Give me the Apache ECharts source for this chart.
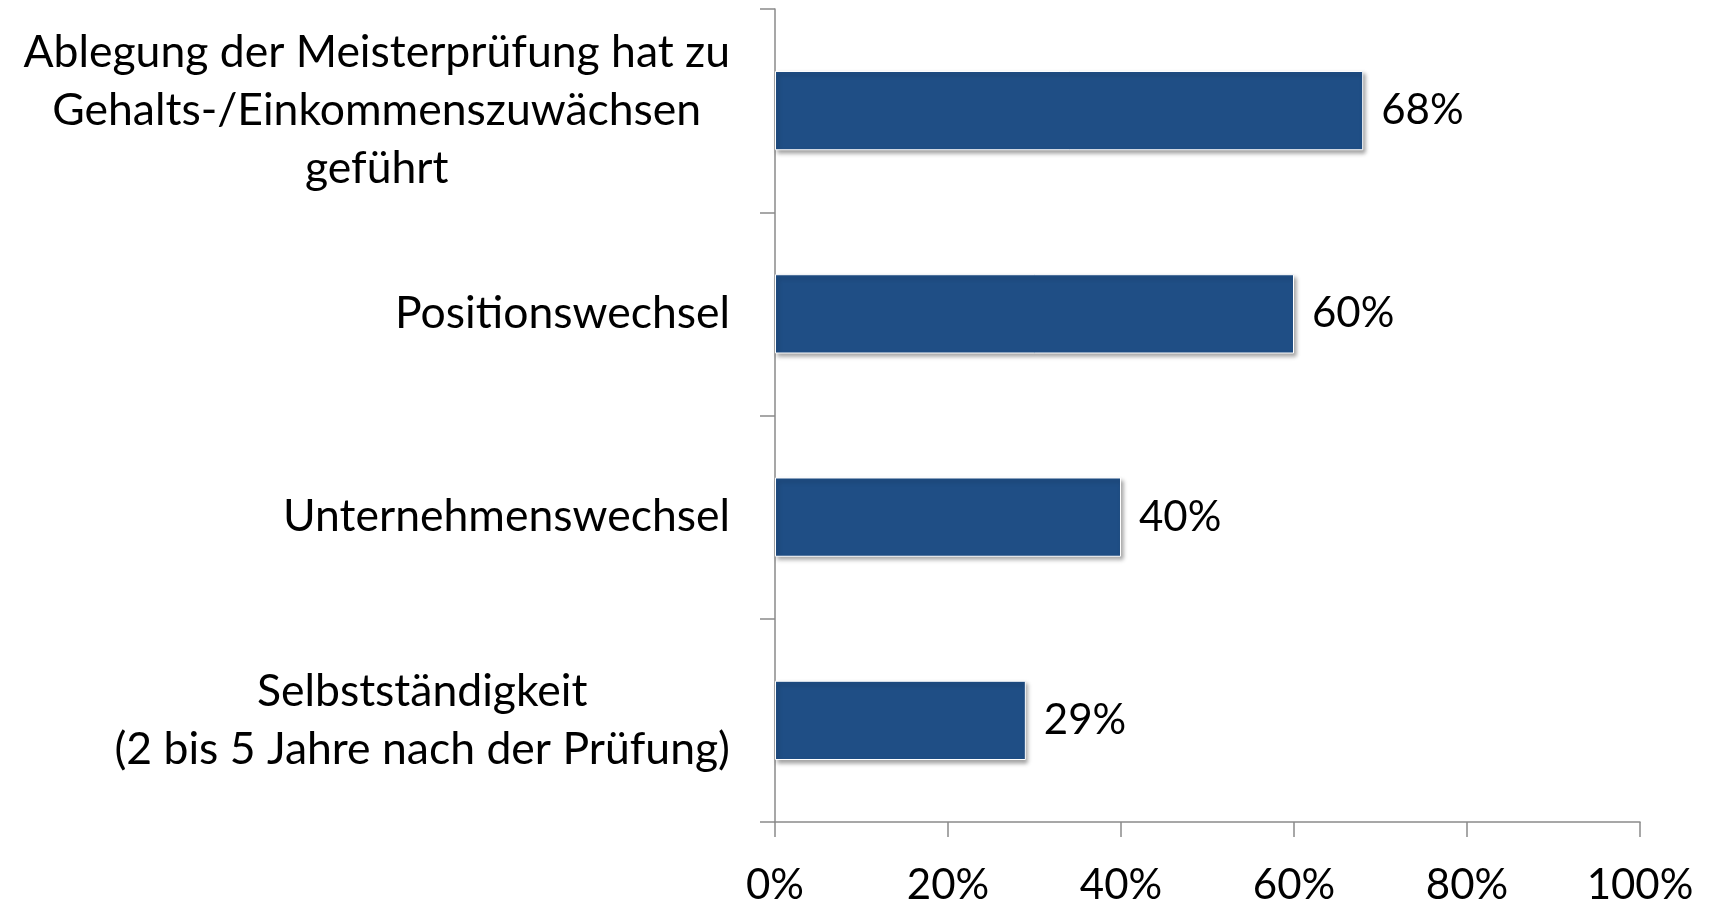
<!DOCTYPE html>
<html>
<head>
<meta charset="utf-8">
<script src="https://cdn.jsdelivr.net/npm/echarts@6/dist/echarts.min.js"></script>
<style>
    html, body { margin: 0; padding: 0; background: #fff; }
    #chart { width: 1714px; height: 906px; }
</style>
</head>
<body>
<div id="chart"></div>
<script>
// Kategorien (von oben nach unten)
const categories = [
    'Ablegung der Meisterprüfung hat zu\nGehalts-/Einkommenszuwächsen\ngeführt',
    'Positionswechsel',
    'Unternehmenswechsel',
    'Selbstständigkeit\n(2 bis 5 Jahre nach der Prüfung)'
];
const values = [68, 60, 40, 29];
const xTicks = [0, 20, 40, 60, 80, 100];

const fontFamily = 'Lato, "Open Sans", sans-serif';
const axisGray = '#8a8a8a';

const myChart = echarts.init(document.getElementById('chart'));
const option = {
    backgroundColor: '#fff',
    animation: false,
    grid: {
        left: 775,
        right: 74,
        top: 9,
        bottom: 83
    },
    xAxis: {
        type: 'value',
        min: xTicks[0],
        max: xTicks[xTicks.length - 1],
        interval: 20,
        splitLine: { show: false },
        axisLine: { show: true, lineStyle: { color: axisGray, width: 1.5 } },
        axisTick: { show: true, length: 15, lineStyle: { color: axisGray, width: 1.5 } },
        axisLabel: {
            margin: 42,
            color: '#000',
            fontSize: 42,
            fontFamily: fontFamily,
            formatter: '{value}%'
        }
    },
    yAxis: {
        type: 'category',
        inverse: true,
        data: categories,
        axisLine: { show: true, lineStyle: { color: axisGray, width: 1.5 } },
        axisTick: { show: true, length: 15, lineStyle: { color: axisGray, width: 1.5 } },
        axisLabel: {
            margin: 45,
            align: 'right',
            color: '#000',
            fontSize: 44.5,
            fontFamily: fontFamily,
            lineHeight: 58,
            // jede Zeile innerhalb des Blocks zentrieren
            formatter: function (v) {
                return v.split('\n').map(function (l) { return '{c|' + l + '}'; }).join('\n');
            },
            rich: {
                c: {
                    align: 'center',
                    color: '#000',
                    fontSize: 44.5,
                    fontFamily: fontFamily,
                    lineHeight: 58
                }
            }
        }
    },
    series: [
        {
            type: 'bar',
            data: values,
            barWidth: '39%',
            itemStyle: {
                color: '#1f4e85',
                borderColor: '#ffffff',
                borderWidth: 1,
                shadowColor: 'rgba(0, 0, 0, 0.35)',
                shadowBlur: 4,
                shadowOffsetX: 2,
                shadowOffsetY: 3
            },
            label: {
                show: true,
                position: 'right',
                distance: 18,
                color: '#000',
                fontSize: 42,
                fontFamily: fontFamily,
                formatter: '{c}%'
            }
        }
    ]
};
myChart.setOption(option);
</script>
</body>
</html>
